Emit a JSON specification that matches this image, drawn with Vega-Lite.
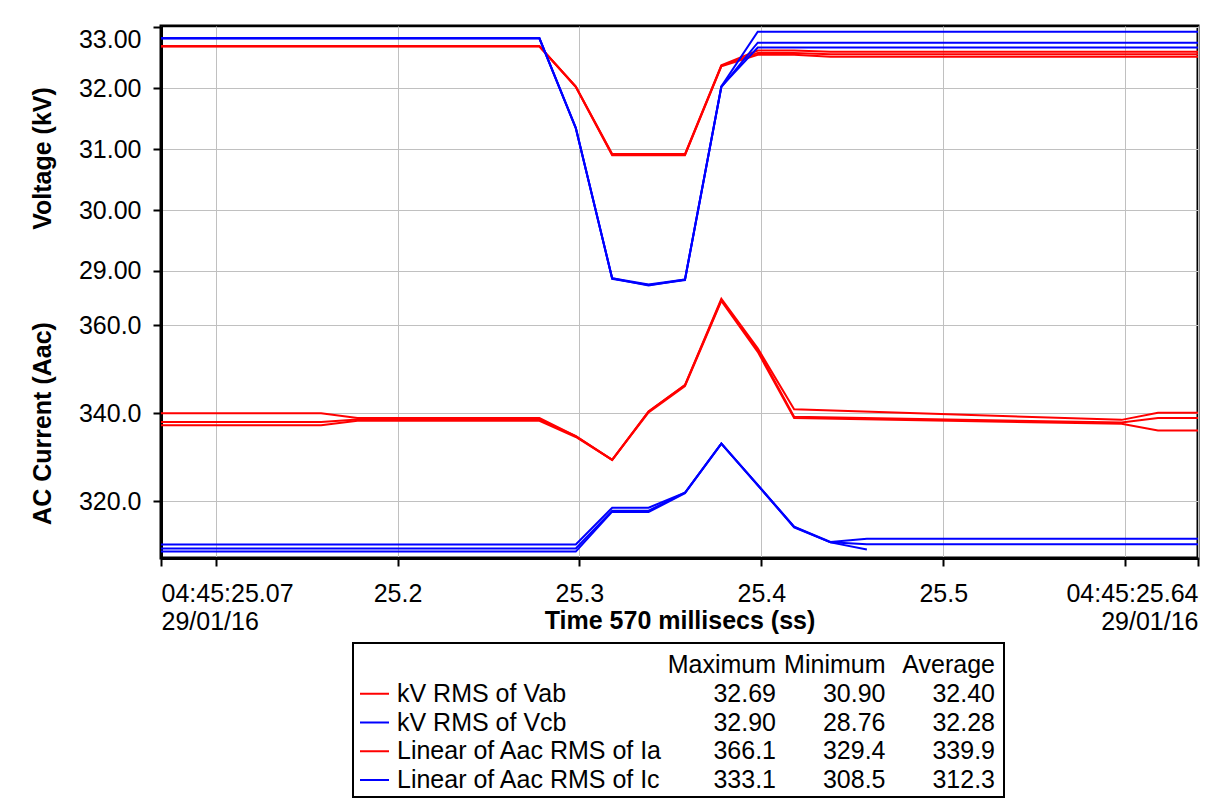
{
  "$schema": "https://vega.github.io/schema/vega-lite/v6.json",
  "background": "white",
  "padding": {"left": 28, "top": 24, "right": 10, "bottom": 4},
  "config": {
    "font": "Liberation Sans",
    "view": {"stroke": null},
    "axis": {"labelColor": "black", "titleColor": "black"}
  },
  "datasets": {
    "voltage": [
      {"t": 25.07, "v": 32.69, "trace": "Vab1", "series": "kV RMS of Vab"},
      {"t": 25.278, "v": 32.69, "trace": "Vab1", "series": "kV RMS of Vab"},
      {"t": 25.298, "v": 32.03, "trace": "Vab1", "series": "kV RMS of Vab"},
      {"t": 25.318, "v": 30.92, "trace": "Vab1", "series": "kV RMS of Vab"},
      {"t": 25.338, "v": 30.92, "trace": "Vab1", "series": "kV RMS of Vab"},
      {"t": 25.358, "v": 30.92, "trace": "Vab1", "series": "kV RMS of Vab"},
      {"t": 25.378, "v": 32.38, "trace": "Vab1", "series": "kV RMS of Vab"},
      {"t": 25.398, "v": 32.62, "trace": "Vab1", "series": "kV RMS of Vab"},
      {"t": 25.418, "v": 32.62, "trace": "Vab1", "series": "kV RMS of Vab"},
      {"t": 25.438, "v": 32.60, "trace": "Vab1", "series": "kV RMS of Vab"},
      {"t": 25.64, "v": 32.60, "trace": "Vab1", "series": "kV RMS of Vab"},
      {"t": 25.07, "v": 32.69, "trace": "Vab2", "series": "kV RMS of Vab"},
      {"t": 25.278, "v": 32.69, "trace": "Vab2", "series": "kV RMS of Vab"},
      {"t": 25.298, "v": 32.03, "trace": "Vab2", "series": "kV RMS of Vab"},
      {"t": 25.318, "v": 30.91, "trace": "Vab2", "series": "kV RMS of Vab"},
      {"t": 25.338, "v": 30.91, "trace": "Vab2", "series": "kV RMS of Vab"},
      {"t": 25.358, "v": 30.91, "trace": "Vab2", "series": "kV RMS of Vab"},
      {"t": 25.378, "v": 32.37, "trace": "Vab2", "series": "kV RMS of Vab"},
      {"t": 25.398, "v": 32.58, "trace": "Vab2", "series": "kV RMS of Vab"},
      {"t": 25.418, "v": 32.58, "trace": "Vab2", "series": "kV RMS of Vab"},
      {"t": 25.438, "v": 32.56, "trace": "Vab2", "series": "kV RMS of Vab"},
      {"t": 25.64, "v": 32.56, "trace": "Vab2", "series": "kV RMS of Vab"},
      {"t": 25.07, "v": 32.69, "trace": "Vab3", "series": "kV RMS of Vab"},
      {"t": 25.278, "v": 32.69, "trace": "Vab3", "series": "kV RMS of Vab"},
      {"t": 25.298, "v": 32.02, "trace": "Vab3", "series": "kV RMS of Vab"},
      {"t": 25.318, "v": 30.90, "trace": "Vab3", "series": "kV RMS of Vab"},
      {"t": 25.338, "v": 30.90, "trace": "Vab3", "series": "kV RMS of Vab"},
      {"t": 25.358, "v": 30.90, "trace": "Vab3", "series": "kV RMS of Vab"},
      {"t": 25.378, "v": 32.36, "trace": "Vab3", "series": "kV RMS of Vab"},
      {"t": 25.398, "v": 32.55, "trace": "Vab3", "series": "kV RMS of Vab"},
      {"t": 25.418, "v": 32.55, "trace": "Vab3", "series": "kV RMS of Vab"},
      {"t": 25.438, "v": 32.52, "trace": "Vab3", "series": "kV RMS of Vab"},
      {"t": 25.64, "v": 32.52, "trace": "Vab3", "series": "kV RMS of Vab"},
      {"t": 25.07, "v": 32.82, "trace": "Vcb1", "series": "kV RMS of Vcb"},
      {"t": 25.278, "v": 32.82, "trace": "Vcb1", "series": "kV RMS of Vcb"},
      {"t": 25.298, "v": 31.35, "trace": "Vcb1", "series": "kV RMS of Vcb"},
      {"t": 25.318, "v": 28.88, "trace": "Vcb1", "series": "kV RMS of Vcb"},
      {"t": 25.338, "v": 28.76, "trace": "Vcb1", "series": "kV RMS of Vcb"},
      {"t": 25.358, "v": 28.86, "trace": "Vcb1", "series": "kV RMS of Vcb"},
      {"t": 25.378, "v": 32.03, "trace": "Vcb1", "series": "kV RMS of Vcb"},
      {"t": 25.398, "v": 32.93, "trace": "Vcb1", "series": "kV RMS of Vcb"},
      {"t": 25.64, "v": 32.93, "trace": "Vcb1", "series": "kV RMS of Vcb"},
      {"t": 25.07, "v": 32.82, "trace": "Vcb2", "series": "kV RMS of Vcb"},
      {"t": 25.278, "v": 32.82, "trace": "Vcb2", "series": "kV RMS of Vcb"},
      {"t": 25.298, "v": 31.35, "trace": "Vcb2", "series": "kV RMS of Vcb"},
      {"t": 25.318, "v": 28.87, "trace": "Vcb2", "series": "kV RMS of Vcb"},
      {"t": 25.338, "v": 28.77, "trace": "Vcb2", "series": "kV RMS of Vcb"},
      {"t": 25.358, "v": 28.85, "trace": "Vcb2", "series": "kV RMS of Vcb"},
      {"t": 25.378, "v": 32.02, "trace": "Vcb2", "series": "kV RMS of Vcb"},
      {"t": 25.398, "v": 32.75, "trace": "Vcb2", "series": "kV RMS of Vcb"},
      {"t": 25.64, "v": 32.75, "trace": "Vcb2", "series": "kV RMS of Vcb"},
      {"t": 25.07, "v": 32.82, "trace": "Vcb3", "series": "kV RMS of Vcb"},
      {"t": 25.278, "v": 32.82, "trace": "Vcb3", "series": "kV RMS of Vcb"},
      {"t": 25.298, "v": 31.34, "trace": "Vcb3", "series": "kV RMS of Vcb"},
      {"t": 25.318, "v": 28.88, "trace": "Vcb3", "series": "kV RMS of Vcb"},
      {"t": 25.338, "v": 28.78, "trace": "Vcb3", "series": "kV RMS of Vcb"},
      {"t": 25.358, "v": 28.86, "trace": "Vcb3", "series": "kV RMS of Vcb"},
      {"t": 25.378, "v": 32.03, "trace": "Vcb3", "series": "kV RMS of Vcb"},
      {"t": 25.398, "v": 32.67, "trace": "Vcb3", "series": "kV RMS of Vcb"},
      {"t": 25.64, "v": 32.67, "trace": "Vcb3", "series": "kV RMS of Vcb"}
    ],
    "current": [
      {"t": 25.07, "a": 340.0, "trace": "Ia1", "series": "Linear of Aac RMS of Ia"},
      {"t": 25.158, "a": 340.0, "trace": "Ia1", "series": "Linear of Aac RMS of Ia"},
      {"t": 25.178, "a": 338.9, "trace": "Ia1", "series": "Linear of Aac RMS of Ia"},
      {"t": 25.278, "a": 338.9, "trace": "Ia1", "series": "Linear of Aac RMS of Ia"},
      {"t": 25.298, "a": 334.8, "trace": "Ia1", "series": "Linear of Aac RMS of Ia"},
      {"t": 25.318, "a": 329.4, "trace": "Ia1", "series": "Linear of Aac RMS of Ia"},
      {"t": 25.338, "a": 340.4, "trace": "Ia1", "series": "Linear of Aac RMS of Ia"},
      {"t": 25.358, "a": 346.4, "trace": "Ia1", "series": "Linear of Aac RMS of Ia"},
      {"t": 25.378, "a": 366.1, "trace": "Ia1", "series": "Linear of Aac RMS of Ia"},
      {"t": 25.398, "a": 354.8, "trace": "Ia1", "series": "Linear of Aac RMS of Ia"},
      {"t": 25.418, "a": 340.9, "trace": "Ia1", "series": "Linear of Aac RMS of Ia"},
      {"t": 25.598, "a": 338.5, "trace": "Ia1", "series": "Linear of Aac RMS of Ia"},
      {"t": 25.618, "a": 340.1, "trace": "Ia1", "series": "Linear of Aac RMS of Ia"},
      {"t": 25.64, "a": 340.1, "trace": "Ia1", "series": "Linear of Aac RMS of Ia"},
      {"t": 25.07, "a": 338.0, "trace": "Ia2", "series": "Linear of Aac RMS of Ia"},
      {"t": 25.158, "a": 338.0, "trace": "Ia2", "series": "Linear of Aac RMS of Ia"},
      {"t": 25.178, "a": 338.6, "trace": "Ia2", "series": "Linear of Aac RMS of Ia"},
      {"t": 25.278, "a": 338.6, "trace": "Ia2", "series": "Linear of Aac RMS of Ia"},
      {"t": 25.298, "a": 334.8, "trace": "Ia2", "series": "Linear of Aac RMS of Ia"},
      {"t": 25.318, "a": 329.4, "trace": "Ia2", "series": "Linear of Aac RMS of Ia"},
      {"t": 25.338, "a": 340.4, "trace": "Ia2", "series": "Linear of Aac RMS of Ia"},
      {"t": 25.358, "a": 346.4, "trace": "Ia2", "series": "Linear of Aac RMS of Ia"},
      {"t": 25.378, "a": 365.8, "trace": "Ia2", "series": "Linear of Aac RMS of Ia"},
      {"t": 25.398, "a": 354.4, "trace": "Ia2", "series": "Linear of Aac RMS of Ia"},
      {"t": 25.418, "a": 339.2, "trace": "Ia2", "series": "Linear of Aac RMS of Ia"},
      {"t": 25.598, "a": 337.9, "trace": "Ia2", "series": "Linear of Aac RMS of Ia"},
      {"t": 25.618, "a": 338.9, "trace": "Ia2", "series": "Linear of Aac RMS of Ia"},
      {"t": 25.64, "a": 338.9, "trace": "Ia2", "series": "Linear of Aac RMS of Ia"},
      {"t": 25.07, "a": 337.3, "trace": "Ia3", "series": "Linear of Aac RMS of Ia"},
      {"t": 25.158, "a": 337.3, "trace": "Ia3", "series": "Linear of Aac RMS of Ia"},
      {"t": 25.178, "a": 338.3, "trace": "Ia3", "series": "Linear of Aac RMS of Ia"},
      {"t": 25.278, "a": 338.3, "trace": "Ia3", "series": "Linear of Aac RMS of Ia"},
      {"t": 25.298, "a": 334.6, "trace": "Ia3", "series": "Linear of Aac RMS of Ia"},
      {"t": 25.318, "a": 329.4, "trace": "Ia3", "series": "Linear of Aac RMS of Ia"},
      {"t": 25.338, "a": 340.2, "trace": "Ia3", "series": "Linear of Aac RMS of Ia"},
      {"t": 25.358, "a": 346.2, "trace": "Ia3", "series": "Linear of Aac RMS of Ia"},
      {"t": 25.378, "a": 365.6, "trace": "Ia3", "series": "Linear of Aac RMS of Ia"},
      {"t": 25.398, "a": 354.0, "trace": "Ia3", "series": "Linear of Aac RMS of Ia"},
      {"t": 25.418, "a": 338.9, "trace": "Ia3", "series": "Linear of Aac RMS of Ia"},
      {"t": 25.598, "a": 337.6, "trace": "Ia3", "series": "Linear of Aac RMS of Ia"},
      {"t": 25.618, "a": 336.1, "trace": "Ia3", "series": "Linear of Aac RMS of Ia"},
      {"t": 25.64, "a": 336.1, "trace": "Ia3", "series": "Linear of Aac RMS of Ia"},
      {"t": 25.07, "a": 310.1, "trace": "Ic1", "series": "Linear of Aac RMS of Ic"},
      {"t": 25.298, "a": 310.1, "trace": "Ic1", "series": "Linear of Aac RMS of Ic"},
      {"t": 25.318, "a": 318.5, "trace": "Ic1", "series": "Linear of Aac RMS of Ic"},
      {"t": 25.338, "a": 318.5, "trace": "Ic1", "series": "Linear of Aac RMS of Ic"},
      {"t": 25.358, "a": 321.9, "trace": "Ic1", "series": "Linear of Aac RMS of Ic"},
      {"t": 25.378, "a": 333.1, "trace": "Ic1", "series": "Linear of Aac RMS of Ic"},
      {"t": 25.398, "a": 323.7, "trace": "Ic1", "series": "Linear of Aac RMS of Ic"},
      {"t": 25.418, "a": 314.2, "trace": "Ic1", "series": "Linear of Aac RMS of Ic"},
      {"t": 25.438, "a": 310.7, "trace": "Ic1", "series": "Linear of Aac RMS of Ic"},
      {"t": 25.458, "a": 311.4, "trace": "Ic1", "series": "Linear of Aac RMS of Ic"},
      {"t": 25.64, "a": 311.4, "trace": "Ic1", "series": "Linear of Aac RMS of Ic"},
      {"t": 25.07, "a": 309.2, "trace": "Ic2", "series": "Linear of Aac RMS of Ic"},
      {"t": 25.298, "a": 309.2, "trace": "Ic2", "series": "Linear of Aac RMS of Ic"},
      {"t": 25.318, "a": 317.8, "trace": "Ic2", "series": "Linear of Aac RMS of Ic"},
      {"t": 25.338, "a": 317.8, "trace": "Ic2", "series": "Linear of Aac RMS of Ic"},
      {"t": 25.358, "a": 321.9, "trace": "Ic2", "series": "Linear of Aac RMS of Ic"},
      {"t": 25.378, "a": 333.1, "trace": "Ic2", "series": "Linear of Aac RMS of Ic"},
      {"t": 25.398, "a": 323.7, "trace": "Ic2", "series": "Linear of Aac RMS of Ic"},
      {"t": 25.418, "a": 314.0, "trace": "Ic2", "series": "Linear of Aac RMS of Ic"},
      {"t": 25.438, "a": 310.6, "trace": "Ic2", "series": "Linear of Aac RMS of Ic"},
      {"t": 25.458, "a": 310.2, "trace": "Ic2", "series": "Linear of Aac RMS of Ic"},
      {"t": 25.64, "a": 310.2, "trace": "Ic2", "series": "Linear of Aac RMS of Ic"},
      {"t": 25.07, "a": 308.5, "trace": "Ic3", "series": "Linear of Aac RMS of Ic"},
      {"t": 25.298, "a": 308.5, "trace": "Ic3", "series": "Linear of Aac RMS of Ic"},
      {"t": 25.318, "a": 317.6, "trace": "Ic3", "series": "Linear of Aac RMS of Ic"},
      {"t": 25.338, "a": 317.5, "trace": "Ic3", "series": "Linear of Aac RMS of Ic"},
      {"t": 25.358, "a": 321.8, "trace": "Ic3", "series": "Linear of Aac RMS of Ic"},
      {"t": 25.378, "a": 333.1, "trace": "Ic3", "series": "Linear of Aac RMS of Ic"},
      {"t": 25.398, "a": 323.6, "trace": "Ic3", "series": "Linear of Aac RMS of Ic"},
      {"t": 25.418, "a": 314.1, "trace": "Ic3", "series": "Linear of Aac RMS of Ic"},
      {"t": 25.438, "a": 310.6, "trace": "Ic3", "series": "Linear of Aac RMS of Ic"},
      {"t": 25.458, "a": 309.0, "trace": "Ic3", "series": "Linear of Aac RMS of Ic"}
    ],
    "stats": [
      {"name": "kV RMS of Vab", "Maximum": "32.69", "Minimum": "30.90", "Average": "32.40"},
      {"name": "kV RMS of Vcb", "Maximum": "32.90", "Minimum": "28.76", "Average": "32.28"},
      {"name": "Linear of Aac RMS of Ia", "Maximum": "366.1", "Minimum": "329.4", "Average": "339.9"},
      {"name": "Linear of Aac RMS of Ic", "Maximum": "333.1", "Minimum": "308.5", "Average": "312.3"}
    ]
  },
  "spacing": 6,
  "vconcat": [
    {
      "width": 1037,
      "height": 532,
      "view": {"stroke": "black", "strokeWidth": 3},
      "encoding": {
        "x": {
          "field": "t",
          "type": "quantitative",
          "scale": {"domain": [25.07, 25.64], "nice": false, "zero": false},
          "axis": {
            "values": [25.07, 25.1, 25.2, 25.3, 25.4, 25.5, 25.6, 25.64],
            "format": ".1f",
            "labelExpr": "datum.value < 25.08 ? ['04:45:25.07', '29/01/16'] : datum.value > 25.63 ? ['04:45:25.64', '29/01/16'] : (datum.value < 25.15 || datum.value > 25.55) ? '' : datum.label",
            "labelFlush": true,
            "labelOverlap": false,
            "labelFontSize": 25,
            "labelLineHeight": 28,
            "labelPadding": 15,
            "tickSize": 8,
            "tickWidth": 2,
            "tickColor": "black",
            "domainColor": "black",
            "domainWidth": 3,
            "grid": true,
            "gridColor": "#c0c0c0",
            "gridWidth": 1,
            "title": "Time 570 millisecs (ss)",
            "titleFontSize": 25,
            "titleFontWeight": "bold",
            "titleY": 70,
            "titleBaseline": "alphabetic"
          }
        },
        "color": {
          "field": "series",
          "type": "nominal",
          "scale": {
            "domain": ["kV RMS of Vab", "kV RMS of Vcb", "Linear of Aac RMS of Ia", "Linear of Aac RMS of Ic"],
            "range": ["#ff0000", "#0000ff", "#ff0000", "#0000ff"]
          },
          "legend": null
        },
        "detail": {"field": "trace", "type": "nominal"}
      },
      "layer": [
        {
          "data": {"name": "voltage"},
          "mark": {"type": "line", "strokeWidth": 2},
          "encoding": {
            "y": {
              "field": "v",
              "type": "quantitative",
              "scale": {"domain": [24.287, 33.023], "nice": false, "zero": false},
              "axis": {
                "orient": "left",
                "values": [29, 30, 31, 32, 33],
                "format": ".2f",
                "labelFontSize": 25,
                "labelPadding": 12,
                "labelFlush": 2,
                "labelOverlap": false,
                "tickSize": 8,
                "tickWidth": 2,
                "tickColor": "black",
                "domainColor": "black",
                "domainWidth": 3,
                "grid": true,
                "gridColor": "#c0c0c0",
                "gridWidth": 1,
                "title": "Voltage (kV)",
                "titleFontSize": 25,
                "titleFontWeight": "bold",
                "titleX": -119,
                "titleY": 132,
                "titleAngle": 270,
                "titleAlign": "center",
                "titleBaseline": "middle"
              }
            }
          }
        },
        {
          "data": {"name": "current"},
          "mark": {"type": "line", "strokeWidth": 2},
          "encoding": {
            "y": {
              "field": "a",
              "type": "quantitative",
              "scale": {"domain": [307.04, 428.2], "nice": false, "zero": false},
              "axis": {
                "orient": "left",
                "values": [320, 340, 360],
                "format": ".1f",
                "labelFontSize": 25,
                "labelPadding": 12,
                "labelOverlap": false,
                "tickSize": 8,
                "tickWidth": 2,
                "tickColor": "black",
                "domainColor": "black",
                "domainWidth": 3,
                "grid": true,
                "gridColor": "#c0c0c0",
                "gridWidth": 1,
                "title": "AC Current (Aac)",
                "titleFontSize": 25,
                "titleFontWeight": "bold",
                "titleX": -119,
                "titleY": 397,
                "titleAngle": 270,
                "titleAlign": "center",
                "titleBaseline": "middle"
              }
            }
          }
        }
      ],
      "resolve": {"scale": {"y": "independent"}}
    },
    {
      "spacing": 0,
      "hconcat": [
        {
          "width": 191,
          "height": 154,
          "data": {"values": []},
          "mark": "point"
        },
        {
          "width": 651,
          "height": 154,
          "view": {"stroke": "black", "strokeWidth": 2},
          "data": {"name": "stats"},
          "layer": [
            {
              "mark": {"type": "point", "shape": "stroke", "size": 841, "strokeWidth": 2, "filled": false, "opacity": 1},
              "encoding": {
                "x": {"datum": "symbol", "type": "nominal", "scale": {"type": "point", "domain": ["symbol"], "range": [21.5, 21.5], "padding": 0}, "axis": null},
                "y": {"field": "name", "type": "nominal", "scale": {"type": "point", "domain": ["Statistic", "kV RMS of Vab", "kV RMS of Vcb", "Linear of Aac RMS of Ia", "Linear of Aac RMS of Ic"], "range": [22, 137], "padding": 0}, "axis": null},
                "color": {
                  "field": "name",
                  "type": "nominal",
                  "scale": {
                    "domain": ["kV RMS of Vab", "kV RMS of Vcb", "Linear of Aac RMS of Ia", "Linear of Aac RMS of Ic"],
                    "range": ["#ff0000", "#0000ff", "#ff0000", "#0000ff"]
                  },
                  "legend": null
                }
              }
            },
            {
              "mark": {"type": "text", "align": "left", "baseline": "middle", "fontSize": 25, "color": "black"},
              "encoding": {
                "x": {"datum": "label", "type": "nominal", "scale": {"type": "point", "domain": ["label"], "range": [44, 44], "padding": 0}, "axis": null},
                "y": {"field": "name", "type": "nominal", "scale": {"type": "point", "domain": ["Statistic", "kV RMS of Vab", "kV RMS of Vcb", "Linear of Aac RMS of Ia", "Linear of Aac RMS of Ic"], "range": [22, 137], "padding": 0}, "axis": null},
                "text": {"field": "name", "type": "nominal"}
              }
            },
            {
              "transform": [{"fold": ["Maximum", "Minimum", "Average"], "as": ["stat", "value"]}],
              "mark": {"type": "text", "align": "right", "baseline": "middle", "fontSize": 25, "color": "black"},
              "encoding": {
                "x": {"field": "stat", "type": "nominal", "scale": {"type": "point", "domain": ["Maximum", "Minimum", "Average"], "range": [423, 642], "padding": 0}, "axis": null},
                "y": {"field": "name", "type": "nominal", "scale": {"type": "point", "domain": ["Statistic", "kV RMS of Vab", "kV RMS of Vcb", "Linear of Aac RMS of Ia", "Linear of Aac RMS of Ic"], "range": [22, 137], "padding": 0}, "axis": null},
                "text": {"field": "value", "type": "nominal"}
              }
            },
            {
              "data": {"values": [{"stat": "Maximum"}, {"stat": "Minimum"}, {"stat": "Average"}]},
              "mark": {"type": "text", "align": "right", "baseline": "middle", "fontSize": 25, "color": "black"},
              "encoding": {
                "x": {"field": "stat", "type": "nominal", "scale": {"type": "point", "domain": ["Maximum", "Minimum", "Average"], "range": [423, 642], "padding": 0}, "axis": null},
                "y": {"datum": "Statistic", "type": "nominal", "scale": {"type": "point", "domain": ["Statistic", "kV RMS of Vab", "kV RMS of Vcb", "Linear of Aac RMS of Ia", "Linear of Aac RMS of Ic"], "range": [22, 137], "padding": 0}, "axis": null},
                "text": {"field": "stat", "type": "nominal"}
              }
            }
          ],
          "resolve": {"scale": {"x": "independent"}}
        }
      ]
    }
  ]
}
